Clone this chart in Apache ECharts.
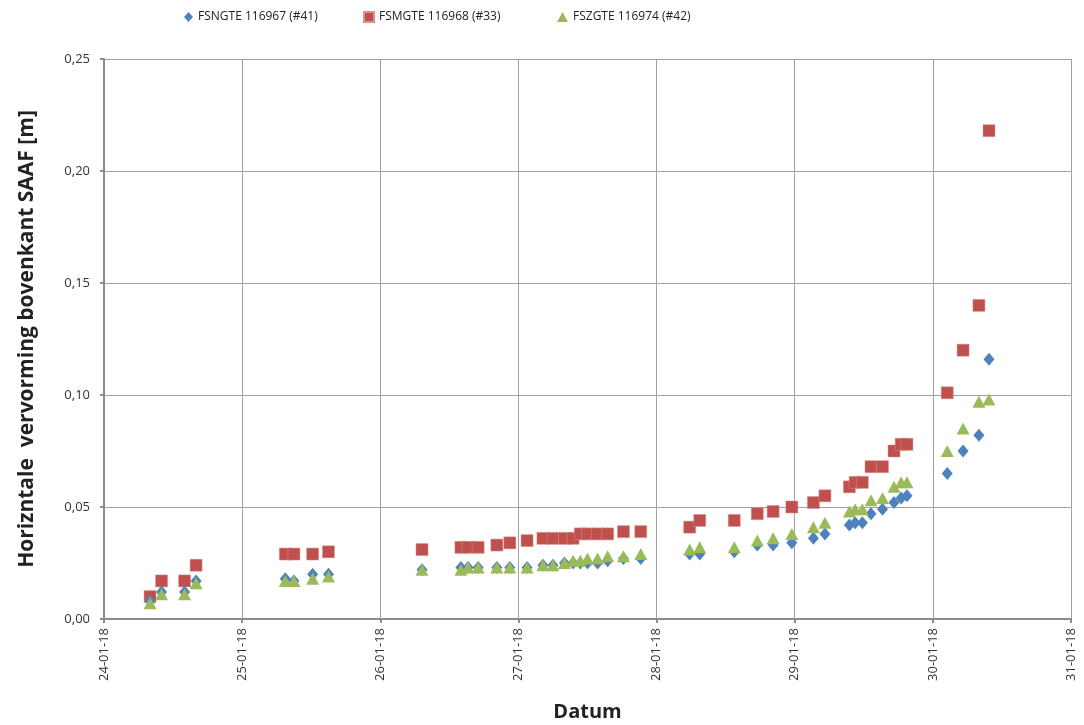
<!DOCTYPE html>
<html>
<head>
<meta charset="utf-8">
<script src="https://cdn.jsdelivr.net/npm/echarts@6/dist/echarts.min.js"></script>
<style>
  html, body { margin: 0; padding: 0; background: #fff; }
  #main { width: 1084px; height: 725px; }
</style>
</head>
<body>
<div id="main"></div>
<script>
/*------------数据------------*/
var times = [
	'2018-01-24 08:00', '2018-01-24 10:00', '2018-01-24 14:00', '2018-01-24 16:00',
	'2018-01-25 07:30', '2018-01-25 09:00', '2018-01-25 12:15', '2018-01-25 15:00',
	'2018-01-26 07:15', '2018-01-26 14:00', '2018-01-26 15:15', '2018-01-26 17:00',
	'2018-01-26 20:15', '2018-01-26 22:30',
	'2018-01-27 01:30', '2018-01-27 04:15', '2018-01-27 06:00', '2018-01-27 08:00',
	'2018-01-27 09:30', '2018-01-27 10:45', '2018-01-27 12:00', '2018-01-27 13:45',
	'2018-01-27 15:30', '2018-01-27 18:15', '2018-01-27 21:15',
	'2018-01-28 05:45', '2018-01-28 07:30', '2018-01-28 13:30', '2018-01-28 17:30',
	'2018-01-28 20:15', '2018-01-28 23:30',
	'2018-01-29 03:15', '2018-01-29 05:15', '2018-01-29 09:30', '2018-01-29 10:30',
	'2018-01-29 11:45', '2018-01-29 13:15', '2018-01-29 15:15', '2018-01-29 17:15',
	'2018-01-29 18:30', '2018-01-29 19:30',
	'2018-01-30 02:30', '2018-01-30 05:15', '2018-01-30 08:00', '2018-01-30 09:45'
];
var fsngte = [
	0.008, 0.012, 0.012, 0.017,
	0.018, 0.017, 0.020, 0.020,
	0.022, 0.023, 0.023, 0.023, 0.023, 0.023,
	0.023, 0.024, 0.024, 0.025, 0.025, 0.025, 0.025, 0.025, 0.026, 0.027, 0.027,
	0.029, 0.029, 0.030, 0.033, 0.033, 0.034,
	0.036, 0.038, 0.042, 0.043, 0.043, 0.047, 0.049, 0.052, 0.054, 0.055,
	0.065, 0.075, 0.082, 0.116
];
var fsmgte = [
	0.010, 0.017, 0.017, 0.024,
	0.029, 0.029, 0.029, 0.030,
	0.031, 0.032, 0.032, 0.032, 0.033, 0.034,
	0.035, 0.036, 0.036, 0.036, 0.036, 0.038, 0.038, 0.038, 0.038, 0.039, 0.039,
	0.041, 0.044, 0.044, 0.047, 0.048, 0.050,
	0.052, 0.055, 0.059, 0.061, 0.061, 0.068, 0.068, 0.075, 0.078, 0.078,
	0.101, 0.120, 0.140, 0.218
];
var fszgte = [
	0.007, 0.011, 0.011, 0.016,
	0.017, 0.017, 0.018, 0.019,
	0.022, 0.022, 0.023, 0.023, 0.023, 0.023,
	0.023, 0.024, 0.024, 0.025, 0.026, 0.026, 0.027, 0.027, 0.028, 0.028, 0.029,
	0.031, 0.032, 0.032, 0.035, 0.036, 0.038,
	0.041, 0.043, 0.048, 0.049, 0.049, 0.053, 0.054, 0.059, 0.061, 0.061,
	0.075, 0.085, 0.097, 0.098
];
var seriesNames = ['FSNGTE 116967 (#41)', 'FSMGTE 116968 (#33)', 'FSZGTE 116974 (#42)'];
var seriesColors = ['#4F81BD', '#C0504D', '#9BBB59'];

function pairs(vals) {
	return vals.map(function(v, i) { return [times[i], v]; });
}
function pad(n) { return n < 10 ? '0' + n : '' + n; }

var DAY = 24 * 3600 * 1000;
var font = "'Open Sans', 'Liberation Sans', sans-serif";
var legendText = { fontSize: 12, color: '#222', fontFamily: font };

/*------------echarts设置------------*/
echarts.init(document.getElementById('main')).setOption({
	backgroundColor: '#fff',
	animation: false,
	textStyle: { fontFamily: font },
	legend: [{
		left: 179, top: 6, itemWidth: 9, itemHeight: 10, itemGap: 4,
		data: [{ name: seriesNames[0], icon: 'diamond' }],
		textStyle: legendText
	}, {
		left: 358, top: 6, itemWidth: 10, itemHeight: 10,
		data: [{ name: seriesNames[1], icon: 'rect' }],
		textStyle: legendText
	}, {
		left: 552, top: 6, itemWidth: 11, itemHeight: 10,
		data: [{ name: seriesNames[2], icon: 'triangle' }],
		textStyle: legendText
	}],
	grid: { left: 104, right: 13, top: 59, bottom: 106, containLabel: false, outerBoundsMode: 'none' },
	xAxis: {
		type: 'time',
		name: 'Datum',
		nameLocation: 'middle',
		nameGap: 83,
		nameTextStyle: { fontSize: 20, fontWeight: 'bold', color: '#222', fontFamily: font },
		min: new Date(2018, 0, 24).getTime(),
		max: new Date(2018, 0, 31).getTime(),
		splitNumber: 7,
		minInterval: DAY,
		maxInterval: DAY,
		axisLine: { lineStyle: { color: '#8c8c8c', width: 2 } },
		axisTick: { show: true, inside: false, length: 4, lineStyle: { color: '#8c8c8c', width: 2 } },
		splitLine: { show: true, lineStyle: { color: '#a0a0a0', width: 1 } },
		axisLabel: {
			rotate: 90,
			fontSize: 13,
			color: '#333',
			margin: 9,
			showMinLabel: true,
			showMaxLabel: true,
			formatter: function(val) {
				var d = new Date(val);
				return pad(d.getDate()) + '-' + pad(d.getMonth() + 1) + '-' + pad(d.getFullYear() % 100);
			}
		}
	},
	yAxis: {
		type: 'value',
		name: 'Horizntale  vervorming bovenkant SAAF [m]',
		nameLocation: 'middle',
		nameGap: 66,
		nameTextStyle: { fontSize: 21, fontWeight: 'bold', color: '#222', fontFamily: font },
		min: 0,
		max: 0.25,
		interval: 0.05,
		axisLine: { show: true, lineStyle: { color: '#8c8c8c', width: 2 } },
		axisTick: { show: true, inside: false, length: 4, lineStyle: { color: '#8c8c8c', width: 2 } },
		splitLine: { show: true, lineStyle: { color: '#a0a0a0', width: 1 } },
		axisLabel: {
			fontSize: 13,
			color: '#333',
			margin: 14,
			formatter: function(v) { return v.toFixed(2).replace('.', ','); }
		}
	},
	series: [{
		name: seriesNames[1],
		type: 'scatter',
		symbol: 'rect',
		symbolSize: 12,
		itemStyle: { color: seriesColors[1], opacity: 1, borderColor: '#d9908e', borderWidth: 0.5 },
		data: pairs(fsmgte),
		z: 2
	}, {
		name: seriesNames[0],
		type: 'scatter',
		symbol: 'diamond',
		symbolSize: [11, 13],
		itemStyle: { color: seriesColors[0], opacity: 1 },
		data: pairs(fsngte),
		z: 3
	}, {
		name: seriesNames[2],
		type: 'scatter',
		symbol: 'triangle',
		symbolSize: [13, 12],
		itemStyle: { color: seriesColors[2], opacity: 1 },
		data: pairs(fszgte),
		z: 4
	}]
});
</script>
</body>
</html>
